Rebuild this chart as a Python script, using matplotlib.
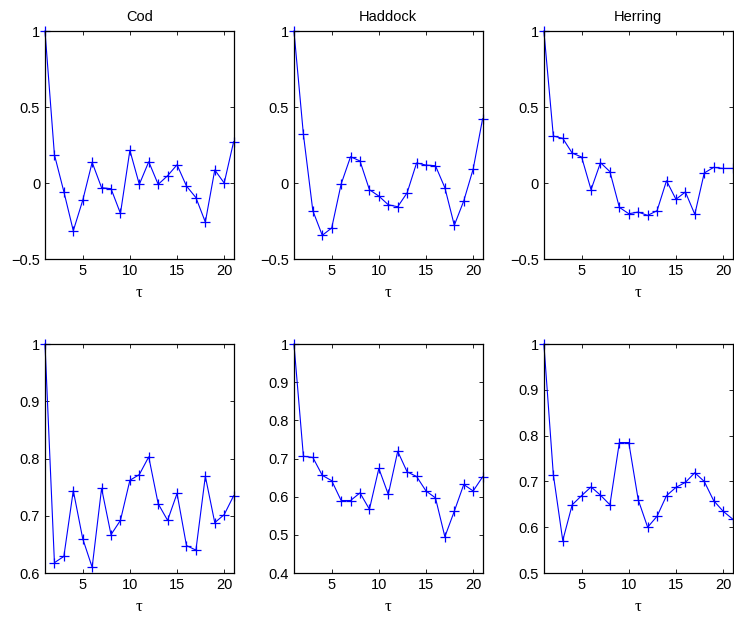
import numpy as np
import matplotlib
matplotlib.use('Agg')
import matplotlib.pyplot as plt

plt.rcParams['font.family'] = ['Liberation Sans', 'DejaVu Sans']

lags = np.arange(1, 22)
species = ['Cod', 'Haddock', 'Herring']

# top row: autocorrelation
acf_cod = [1, 0.186, -0.057, -0.314, -0.114, 0.136, -0.031, -0.037, -0.2, 0.215, -0.009,
           0.14, -0.009, 0.048, 0.12, -0.02, -0.096, -0.257, 0.086, 0.0, 0.272]
acf_haddock = [1, 0.32, -0.182, -0.344, -0.296, -0.007, 0.173, 0.145, -0.044, -0.086, -0.143,
               -0.156, -0.064, 0.132, 0.118, 0.114, -0.031, -0.278, -0.118, 0.092, 0.423]
acf_herring = [1, 0.309, 0.294, 0.197, 0.171, -0.044, 0.134, 0.075, -0.16, -0.202, -0.191,
               -0.213, -0.182, 0.015, -0.107, -0.059, -0.206, 0.066, 0.103, 0.096, 0.096]

# bottom row
bot_cod = [1, 0.618, 0.629, 0.744, 0.66, 0.61, 0.748, 0.667, 0.692, 0.762, 0.772,
           0.803, 0.721, 0.692, 0.739, 0.648, 0.64, 0.769, 0.688, 0.702, 0.735]
bot_haddock = [1, 0.706, 0.703, 0.656, 0.642, 0.59, 0.59, 0.61, 0.567, 0.674, 0.606,
               0.719, 0.665, 0.653, 0.615, 0.597, 0.495, 0.562, 0.632, 0.615, 0.652]
bot_herring = [1, 0.715, 0.571, 0.649, 0.669, 0.688, 0.67, 0.649, 0.785, 0.785, 0.66,
               0.6, 0.624, 0.669, 0.687, 0.698, 0.719, 0.7, 0.658, 0.635, 0.618]

top_data = [acf_cod, acf_haddock, acf_herring]
bot_data = [bot_cod, bot_haddock, bot_herring]

top_ticks = [-0.5, 0, 0.5, 1]
top_labels = ['\u22120.5', '0', '0.5', '1']
bot_ranges = [(0.6, 1), (0.4, 1), (0.5, 1)]

fig = plt.figure(figsize=(7.34, 6.17), dpi=100)
lefts = [0.0613, 0.4005, 0.741]
w = 0.257

def style(ax):
    ax.set_xlim(1, 21)
    ax.set_xticks([5, 10, 15, 20])
    ax.tick_params(direction='in', top=True, right=True, labelsize=10.5, length=3, width=0.6)
    for s in ax.spines.values():
        s.set_linewidth(0.9)
    ax.set_xlabel('\u03c4', fontsize=12, labelpad=5, family=['Liberation Serif', 'DejaVu Serif'])

for i in range(3):
    ax = fig.add_axes([lefts[i], 0.5802, w, 0.3695])
    ax.plot(lags, top_data[i], color='blue', lw=0.8, marker='+', ms=7, mew=0.9, clip_on=False)
    style(ax)
    ax.set_ylim(-0.5, 1)
    ax.set_yticks(top_ticks)
    ax.set_yticklabels(top_labels)
    ax.set_title(species[i], fontsize=10.5, pad=7)

for i in range(3):
    ax = fig.add_axes([lefts[i], 0.0713, w, 0.371])
    ax.plot(lags, bot_data[i], color='blue', lw=0.8, marker='+', ms=7, mew=0.9, clip_on=False)
    style(ax)
    lo, hi = bot_ranges[i]
    ax.set_ylim(lo, hi)
    ticks = np.round(np.arange(lo, hi + 0.001, 0.1), 1)
    ax.set_yticks(ticks)
    ax.set_yticklabels(['1' if t == 1 else '%.1f' % t for t in ticks])

fig.savefig('out.png', dpi=100)
